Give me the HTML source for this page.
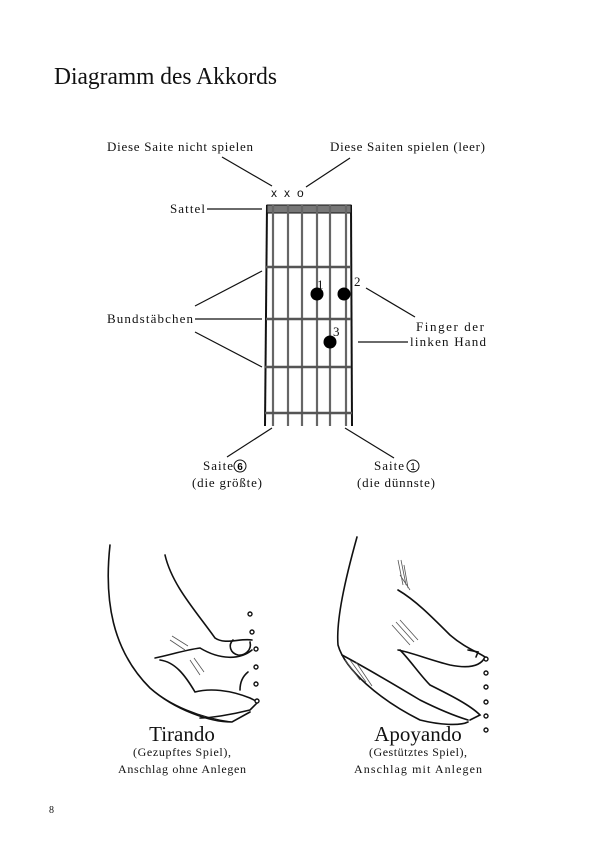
<!DOCTYPE html>
<html><head><meta charset="utf-8"><style>
html,body{margin:0;padding:0;background:#fff;}
body{width:610px;height:864px;overflow:hidden;}
svg{display:block}
</style></head><body>
<svg width="610" height="864" viewBox="0 0 610 864" xmlns="http://www.w3.org/2000/svg">
<rect width="610" height="864" fill="#fff"/>
<g font-family="Liberation Serif, serif" fill="#111">
<text x="54" y="84" font-size="24" textLength="223" lengthAdjust="spacingAndGlyphs">Diagramm des Akkords</text>
<text x="107" y="151" font-size="13" textLength="146">Diese Saite nicht spielen</text>
<text x="330" y="151" font-size="13" textLength="155">Diese Saiten spielen (leer)</text>
<text x="170" y="213" font-size="13" textLength="35">Sattel</text>
<text x="107" y="323" font-size="13" textLength="86">Bundstäbchen</text>
<text x="416" y="331" font-size="13" textLength="68">Finger der</text>
<text x="410" y="346" font-size="13" textLength="76">linken Hand</text>
<text x="203" y="470" font-size="13" textLength="30">Saite</text>
<text x="192" y="487" font-size="13" textLength="70">(die größte)</text>
<text x="374" y="470" font-size="13" textLength="30">Saite</text>
<text x="357" y="487" font-size="13" textLength="78">(die dünnste)</text>
<text x="317" y="289" font-size="13">1</text>
<text x="354" y="286" font-size="13">2</text>
<text x="333" y="336" font-size="13">3</text>
<text x="182" y="741" font-size="21" text-anchor="middle">Tirando</text>
<text x="182" y="756" font-size="12" text-anchor="middle" textLength="98">(Gezupftes Spiel),</text>
<text x="182" y="773" font-size="12" text-anchor="middle" textLength="128">Anschlag ohne Anlegen</text>
<text x="418" y="741" font-size="21" text-anchor="middle">Apoyando</text>
<text x="418" y="756" font-size="12" text-anchor="middle" textLength="98">(Gestütztes Spiel),</text>
<text x="418" y="773" font-size="12" text-anchor="middle" textLength="128">Anschlag mit Anlegen</text>
<text x="49" y="813" font-size="10">8</text>
</g>
<g font-family="Liberation Sans, sans-serif" font-size="12" fill="#111">
<text x="271" y="197">x</text><text x="284" y="197">x</text><text x="297" y="197">o</text>
</g>
<circle cx="240" cy="466" r="6" fill="none" stroke="#111" stroke-width="1"/>
<text x="240" y="470" font-size="10" font-weight="bold" text-anchor="middle" font-family="Liberation Sans, sans-serif">6</text>
<circle cx="413" cy="466" r="6" fill="none" stroke="#111" stroke-width="1"/>
<text x="413" y="470" font-size="10" text-anchor="middle" font-family="Liberation Sans, sans-serif">1</text>
<g stroke="#111" fill="none">
<line x1="222" y1="157" x2="272" y2="186" stroke-width="1.2"/>
<line x1="350" y1="158" x2="306" y2="187" stroke-width="1.2"/>
<line x1="207" y1="209" x2="262" y2="209" stroke-width="1.2"/>
<line x1="195" y1="306" x2="262" y2="271" stroke-width="1.2"/>
<line x1="195" y1="319" x2="262" y2="319" stroke-width="1.2"/>
<line x1="195" y1="332" x2="262" y2="367" stroke-width="1.2"/>
<line x1="366" y1="288" x2="415" y2="317" stroke-width="1.2"/>
<line x1="358" y1="342" x2="408" y2="342" stroke-width="1.2"/>
<line x1="272" y1="428" x2="227" y2="457" stroke-width="1.2"/>
<line x1="345" y1="428" x2="394" y2="458" stroke-width="1.2"/>
<line x1="267" y1="205" x2="265" y2="426" stroke-width="2"/>
<line x1="351" y1="205" x2="352" y2="426" stroke-width="2"/>
<rect x="267" y="205" width="84" height="8" fill="#777" stroke-width="1"/>
<g stroke-width="2.2" stroke="#666">
<line x1="273" y1="205" x2="273" y2="426"/>
<line x1="288" y1="205" x2="288" y2="426"/>
<line x1="302" y1="205" x2="302" y2="426"/>
<line x1="317" y1="205" x2="317" y2="426"/>
<line x1="330" y1="205" x2="330" y2="426"/>
<line x1="346" y1="205" x2="346" y2="426"/>
</g>
<g stroke-width="2.5" stroke="#555">
<line x1="266" y1="267" x2="351" y2="267"/>
<line x1="266" y1="319" x2="351" y2="319"/>
<line x1="265" y1="367" x2="351" y2="367"/>
<line x1="265" y1="413" x2="352" y2="413"/>
</g>
</g>
<circle cx="317" cy="294" r="6.5" fill="#000"/>
<circle cx="344" cy="294" r="6.5" fill="#000"/>
<circle cx="330" cy="342" r="6.5" fill="#000"/>
<g stroke="#111" stroke-width="1.6" fill="none" stroke-linecap="round">
<path d="M110 545 C104 600 112 650 150 688 C175 710 210 722 232 722 L250 712"/>
<path d="M165 555 C172 585 195 610 215 638 C225 645 240 638 252 640"/>
<path d="M233 640 C228 645 230 653 238 655 C245 656 252 650 250 642"/>
<path d="M252 650 C240 660 220 660 200 648 C185 650 170 655 155 658"/>
<path d="M160 660 C175 662 185 675 195 692 C210 688 230 690 250 698 L258 702 L250 710 C230 715 210 718 200 718"/>
<path d="M240 690 C240 682 243 676 248 672"/>
<path d="M150 688 C170 705 200 718 232 722" stroke-width="1"/>
</g>
<g stroke="#111" stroke-width="1.4" fill="#fff">
<circle cx="250" cy="614" r="2"/><circle cx="252" cy="632" r="2"/><circle cx="256" cy="649" r="2"/>
<circle cx="256" cy="667" r="2"/><circle cx="256" cy="684" r="2"/><circle cx="257" cy="701" r="2"/>
</g>
<g stroke="#111" stroke-width="1.6" fill="none" stroke-linecap="round">
<path d="M357 537 C345 580 336 620 338 645 C345 670 380 700 420 720 C440 725 460 726 468 722"/>
<path d="M398 590 C415 600 430 615 450 635 C465 648 478 652 485 657"/>
<path d="M485 657 C480 668 465 668 450 665 C430 660 410 652 398 650"/>
<path d="M468 650 L478 652 L476 657"/>
<path d="M400 650 C410 660 420 675 430 685 C450 695 470 705 480 715 L470 720"/>
<path d="M342 655 C370 670 395 685 420 700 C440 710 455 716 468 720"/>
</g>
<g stroke="#555" stroke-width="0.8">
<path d="M398 560 L403 585 M401 560 L406 585 M404 565 L408 588 M400 575 L410 590"/>
<path d="M392 625 L410 645 M396 622 L414 642 M400 620 L418 640"/>
<path d="M345 660 L360 680 M350 660 L366 682 M356 662 L372 686"/>
<path d="M170 640 L185 650 M172 636 L188 646 M190 660 L200 675 M194 658 L204 672"/>
</g>
<g stroke="#111" stroke-width="1.4" fill="#fff">
<circle cx="486" cy="659" r="2"/><circle cx="486" cy="673" r="2"/><circle cx="486" cy="687" r="2"/>
<circle cx="486" cy="702" r="2"/><circle cx="486" cy="716" r="2"/><circle cx="486" cy="730" r="2"/>
</g>
</svg>
</body></html>
